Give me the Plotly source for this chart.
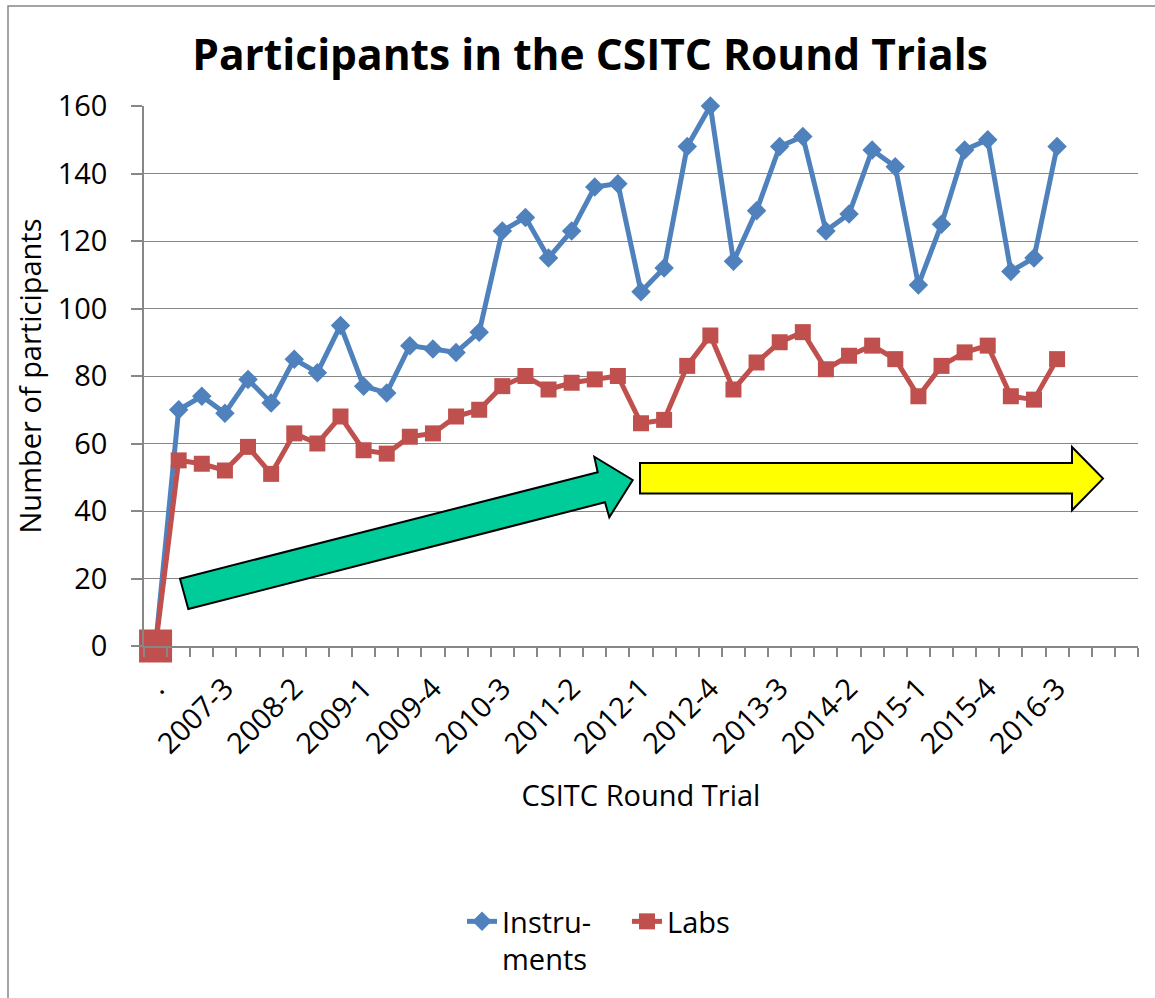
import plotly.graph_objects as go

# ---------------- data ----------------
categories = ["."] + [f"{y}-{q}" for y in range(2007, 2017) for q in (1, 2, 3, 4)][:39] + ["", "", ""]
instruments = [0, 70, 74, 69, 79, 72, 85, 81, 95, 77, 75, 89, 88, 87, 93,
               123, 127, 115, 123, 136, 137, 105, 112, 148, 160, 114, 129, 148, 151,
               123, 128, 147, 142, 107, 125, 147, 150, 111, 115, 148]
labs = [0, 55, 54, 52, 59, 51, 63, 60, 68, 58, 57, 62, 63, 68, 70,
        77, 80, 76, 78, 79, 80, 66, 67, 83, 92, 76, 84, 90, 93,
        82, 86, 89, 85, 74, 83, 87, 89, 74, 73, 85]
label_step = 3
y_ticks = [0, 20, 40, 60, 80, 100, 120, 140, 160]

# ---------------- layout geometry ----------------
W, H = 1155, 998
L, R, T, B = 144, 1138, 106, 646   # plot area in px

def pp(x, y):
    return (x - L) / (R - L), (B - y) / (B - T)

def path(points):
    pts = [pp(x, y) for x, y in points]
    return "M " + " L ".join(f"{x:.5f},{y:.5f}" for x, y in pts) + " Z"

FONT = "Open Sans"
blue = "#4F81BD"
red = "#C0504D"
grid = "#878787"

xs = list(range(len(instruments)))
n_cat = len(categories)

def sizes(first, rest, n):
    return [first] + [rest] * (n - 1)

fig = go.Figure()
fig.add_trace(go.Scatter(
    x=xs, y=instruments, name="Instru-<br>ments", mode="lines+markers",
    line=dict(color=blue, width=5), cliponaxis=False,
    marker=dict(symbol="diamond", size=15, color=blue, opacity=1, line=dict(width=0)),
))
fig.add_trace(go.Scatter(
    x=xs, y=labs, name="Labs", mode="lines+markers",
    line=dict(color=red, width=5), cliponaxis=False,
    marker=dict(symbol="square", size=sizes(33, 16, len(labs)), color=red, opacity=1,
                line=dict(width=0)),
))

tickvals = list(range(0, len(instruments), label_step))
ticktext = [categories[i] for i in tickvals]

fig.update_layout(
    width=W, height=H,
    margin=dict(l=L, r=W - R, t=T, b=H - B, autoexpand=False),
    paper_bgcolor="white", plot_bgcolor="white",
    font=dict(family=FONT, size=29, color="black"),
    title=dict(text="<b>Participants in the CSITC Round Trials</b>",
               font=dict(family=FONT, size=42.5, color="black"),
               x=590 / W, xanchor="center", xref="container",
               y=1 - 55 / H, yanchor="middle", yref="container"),
    showlegend=True,
    legend=dict(orientation="h", x=pp(462, 0)[0], xanchor="left",
                y=pp(0, 896)[1], yanchor="top", valign="top",
                font=dict(family=FONT, size=29, color="black"),
                traceorder="normal", itemwidth=30,
                entrywidth=120, entrywidthmode="pixels",
                bgcolor="rgba(0,0,0,0)"),
    xaxis=dict(
        range=[-0.5, n_cat - 0.5], tickmode="array", tickvals=tickvals, ticktext=ticktext,
        tickangle=-45, ticks="", showgrid=False, zeroline=False,
        showline=True, linecolor=grid, linewidth=1.5,
        tickfont=dict(family=FONT, size=29, color="black"),
        ticklabelstandoff=12,
        minor=dict(tickmode="linear", tick0=-0.5, dtick=1, ticks="outside",
                   ticklen=9, tickcolor=grid, tickwidth=1.5, showgrid=False),
        title=dict(text="CSITC Round Trial", font=dict(family=FONT, size=29, color="black"),
                   standoff=26),
    ),
    yaxis=dict(
        range=[0, 160], tickmode="array", tickvals=y_ticks,
        ticks="outside", ticklen=11, tickcolor=grid, tickwidth=1.5,
        showline=True, linecolor=grid, linewidth=1.5,
        showgrid=True, gridcolor=grid, gridwidth=1.3, zeroline=False,
        tickfont=dict(family=FONT, size=29, color="black"),
        ticklabelstandoff=18,
        title=dict(text="Number of participants", font=dict(family=FONT, size=29, color="black"),
                   standoff=8),
    ),
)

green_arrow = [(180, 578.7), (597.7, 472.3), (594.3, 456.7), (632.7, 480),
               (609.3, 517.3), (605, 502.3), (188.3, 609)]
yellow_arrow = [(640, 463), (1072, 463), (1072, 447), (1103, 478.6),
                (1072, 510.3), (1072, 493.6), (640, 493.6)]

fig.add_shape(type="path", xref="paper", yref="paper", path=path(green_arrow),
              fillcolor="#00CC99", line=dict(color="black", width=2), layer="above")
fig.add_shape(type="path", xref="paper", yref="paper", path=path(yellow_arrow),
              fillcolor="#FFFF00", line=dict(color="black", width=2), layer="above")

# chart-area border
bx0, by0 = pp(8, 6)
bx1, by1 = pp(1162, 1005)
fig.add_shape(type="rect", xref="paper", yref="paper", x0=bx0, y0=by1, x1=bx1, y1=by0,
              line=dict(color="#868686", width=1.5), fillcolor="rgba(0,0,0,0)", layer="below")

fig.write_html("out.html", config={"displayModeBar": False},
               post_script="document.body.style.margin='0px';document.body.style.overflow='hidden';")
